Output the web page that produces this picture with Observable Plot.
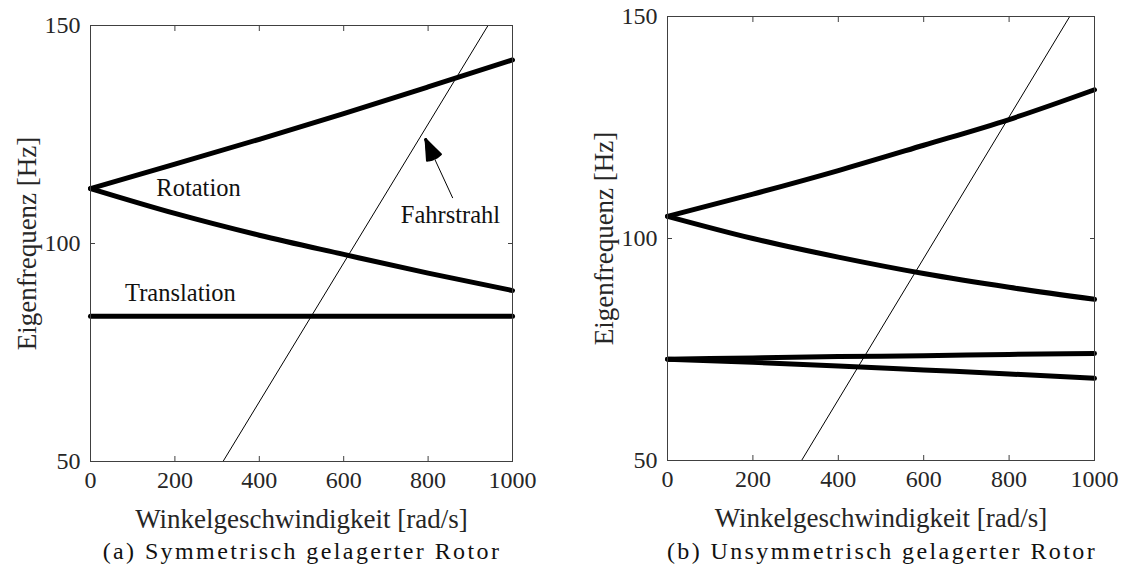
<!DOCTYPE html>
<html>
<head>
<meta charset="utf-8">
<script src="https://cdn.jsdelivr.net/npm/d3@7"></script>
<script src="https://cdn.jsdelivr.net/npm/@observablehq/plot@0.6"></script>
<style>
  html, body { margin: 0; padding: 0; background: #fff; }
  #page { position: relative; width: 1126px; height: 585px; overflow: hidden; }
  .panel { position: absolute; top: 0; }
  .caption {
    position: absolute; top: 538px; width: 520px; text-align: center; white-space: nowrap;
    font-family: "Liberation Serif", "Times New Roman", serif; font-size: 24px; letter-spacing: 2.4px; color: #111;
  }
</style>
</head>
<body>
<div id="page">
  <div class="panel" id="left" style="left:0px"></div>
  <div class="panel" id="right" style="left:560px"></div>
  <div class="caption" style="left:42px">(a) Symmetrisch gelagerter Rotor</div>
  <div class="caption" style="left:622px">(b) Unsymmetrisch gelagerter Rotor</div>
</div>
<script>
// Winkelgeschwindigkeit [rad/s] sampling
const omega = [0, 200, 400, 600, 800, 1000];
const xTicks = [0, 200, 400, 600, 800, 1000];
const yTicks = [50, 100, 150];

// (a) symmetric bearings: eigenfrequencies [Hz]
const symRotUp = [112.6, 118.2, 123.9, 129.8, 135.9, 142.1];
const symRotDown = [112.6, 106.9, 101.9, 97.5, 93.2, 89.2];
const symTrans = [83.3, 83.3, 83.3, 83.3, 83.3, 83.3];

// (b) asymmetric bearings: eigenfrequencies [Hz]
const asymRotUp = [105.0, 110.0, 115.3, 121.0, 126.8, 133.5];
const asymRotDown = [105.0, 100.0, 95.8, 92.1, 89.0, 86.3];
const asymTransUp = [72.8, 73.1, 73.4, 73.6, 73.9, 74.1];
const asymTransDown = [72.8, 72.1, 71.3, 70.4, 69.5, 68.5];

// Fahrstrahl (f = Omega / 2pi), end points within the axes
const rayOmega = [314, 942];
const rayFreq = [50, 150];

// annotations of panel (a)
const labels = [
  {x: 256, y: 112.8, text: "Rotation"},
  {x: 213, y: 88.5, text: "Translation"},
  {x: 853, y: 106.4, text: "Fahrstrahl"}
];
const arrowA = [{x1: 858, y1: 110.5, x2: 794, y2: 123.9}];

const FONT = "'Liberation Serif', 'Times New Roman', serif";
const INK = "#262626";
const EDGE = "#404040";

function series(values) {
  return omega.map((w, i) => ({w, f: values[i]}));
}

function panel({curves, annotations, arrows, plotWidth, marginLeft, marginRight, marginTop, marginBottom, yLabelDx}) {
  const ray = rayOmega.map((w, i) => ({w, f: rayFreq[i]}));
  const marks = [
    Plot.line(ray, {x: "w", y: "f", stroke: "black", strokeWidth: 1, clip: true}),
    ...curves.map(c => Plot.line(series(c), {
      x: "w", y: "f", stroke: "black", strokeWidth: 5, strokeLinecap: "round", strokeLinejoin: "round", curve: "monotone-x"
    })),
    Plot.frame({stroke: EDGE, strokeWidth: 1}),
    // inward ticks on all four sides
    Plot.axisX({anchor: "bottom", ticks: xTicks, tickSize: -5, fill: "none", stroke: EDGE, label: null}),
    Plot.axisX({anchor: "top", ticks: xTicks, tickSize: -5, fill: "none", stroke: EDGE, label: null}),
    Plot.axisY({anchor: "left", ticks: yTicks, tickSize: -5, fill: "none", stroke: EDGE, label: null}),
    Plot.axisY({anchor: "right", ticks: yTicks, tickSize: -5, fill: "none", stroke: EDGE, label: null}),
    // tick labels
    Plot.axisX({anchor: "bottom", ticks: xTicks, tickSize: 0, tickPadding: 9, tickFormat: d => String(d), fill: INK, fontSize: 24, label: null}),
    Plot.axisY({anchor: "left", ticks: yTicks, tickSize: 0, tickPadding: 10, tickFormat: d => String(d), fill: INK, fontSize: 24, label: null}),
    // axis titles
    Plot.text(["Winkelgeschwindigkeit [rad/s]"], {frameAnchor: "bottom", dy: 58, fill: INK, fontSize: 27, lineAnchor: "middle", textAnchor: "middle"}),
    Plot.text(["Eigenfrequenz [Hz]"], {frameAnchor: "left", dx: yLabelDx, rotate: -90, fill: INK, fontSize: 27, lineAnchor: "middle", textAnchor: "middle"})
  ];
  if (annotations) {
    marks.push(Plot.text(annotations, {x: "x", y: "y", text: "text", fill: "#111", fontSize: 24.5}));
  }
  if (arrows) {
    // thin stem
    marks.push(Plot.arrow(arrows, {x1: "x1", y1: "y1", x2: "x2", y2: "y2", stroke: "black", strokeWidth: 1, headLength: 0}));
    // solid head, built from a fan of barbs
    for (const angle of [6, 12, 18, 24, 30, 36, 42]) {
      marks.push(Plot.arrow(arrows, {
        x1: "x1", y1: "y1", x2: "x2", y2: "y2", stroke: "black", strokeWidth: 2,
        headLength: 18, headAngle: angle, insetStart: 50
      }));
    }
  }
  return Plot.plot({
    width: marginLeft + plotWidth + marginRight,
    height: 535,
    marginLeft, marginRight, marginTop, marginBottom,
    style: {fontFamily: FONT, fontSize: "24px", background: "white", color: INK},
    x: {domain: [0, 1000], axis: null},
    y: {domain: [50, 150], axis: null},
    marks
  });
}

document.getElementById("left").append(panel({
  curves: [symRotUp, symRotDown, symTrans],
  annotations: labels,
  arrows: arrowA,
  plotWidth: 422, marginLeft: 90, marginRight: 48, marginTop: 25, marginBottom: 74, yLabelDx: -63
}));

document.getElementById("right").append(panel({
  curves: [asymRotUp, asymRotDown, asymTransUp, asymTransDown],
  plotWidth: 427, marginLeft: 107, marginRight: 32, marginTop: 16, marginBottom: 75, yLabelDx: -63
}));
</script>
</body>
</html>
